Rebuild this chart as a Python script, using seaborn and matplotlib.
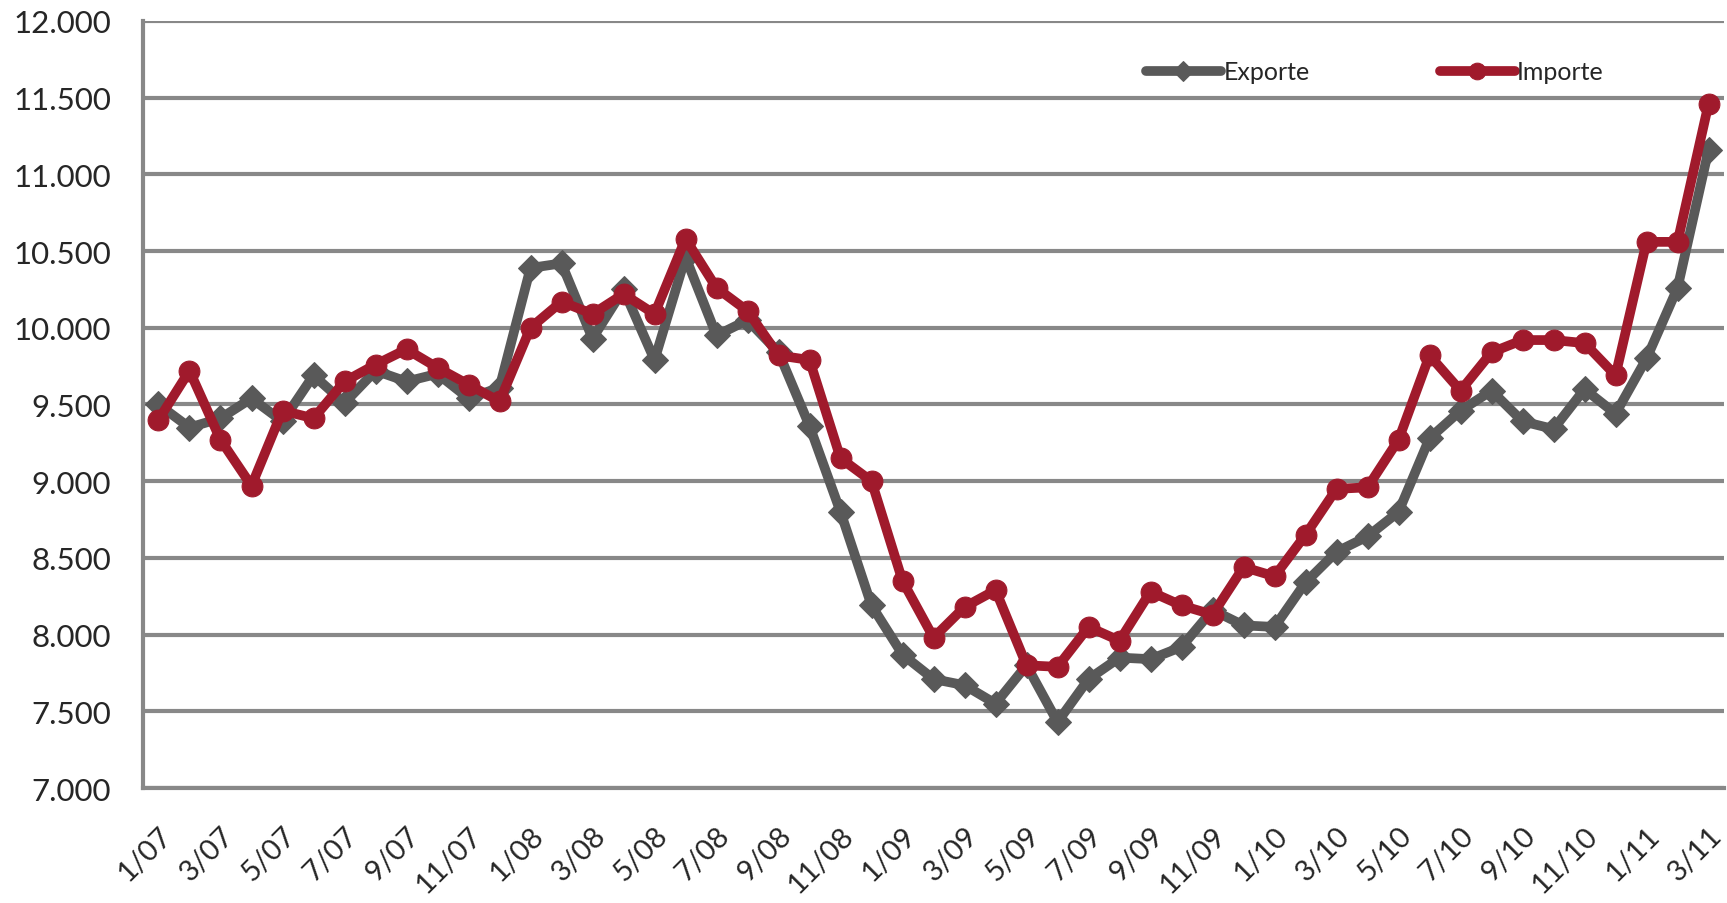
import numpy as np
import pandas as pd
import matplotlib
matplotlib.use('Agg')
import matplotlib.pyplot as plt
import seaborn as sns

# Monatsdaten 1/07 bis 3/11
monate = [f'{m}/{j:02d}' for j in range(7, 12) for m in range(1, 13)][:51]
exporte = [9.50, 9.35, 9.41, 9.54, 9.39, 9.69, 9.51, 9.72, 9.65, 9.70, 9.54, 9.61,
           10.39, 10.42, 9.93, 10.25, 9.79, 10.46, 9.95, 10.05, 9.84, 9.36, 8.80, 8.19,
           7.87, 7.71, 7.67, 7.55, 7.80, 7.43, 7.71, 7.85, 7.84, 7.92, 8.16, 8.06,
           8.05, 8.34, 8.54, 8.64, 8.80, 9.28, 9.46, 9.59, 9.39, 9.34, 9.60, 9.44,
           9.80, 10.26, 11.16]
importe = [9.40, 9.72, 9.27, 8.97, 9.46, 9.41, 9.65, 9.76, 9.86, 9.74, 9.63, 9.52,
           10.00, 10.17, 10.09, 10.22, 10.09, 10.58, 10.26, 10.11, 9.82, 9.79, 9.15, 9.00,
           8.35, 7.98, 8.18, 8.29, 7.80, 7.79, 8.05, 7.96, 8.28, 8.19, 8.13, 8.44,
           8.38, 8.65, 8.95, 8.96, 9.27, 9.82, 9.59, 9.84, 9.92, 9.92, 9.90, 9.69,
           10.56, 10.56, 11.46]
exporte = [v * 1000 for v in exporte]
importe = [v * 1000 for v in importe]

df = pd.DataFrame({'pos': np.arange(len(monate)), 'Exporte': exporte, 'Importe': importe})

sns.set_style('white')
plt.rcParams['font.family'] = ['Lato', 'DejaVu Sans']

grau = '#595959'
rot = '#A01A2C'
gitter = '#888888'

fig = plt.figure(figsize=(17.27, 9.04), dpi=100)
ax = fig.add_axes([0.0828, 0.1272, 0.9155, 0.8485])

sns.lineplot(x='pos', y='Exporte', data=df, ax=ax, color=grau, linewidth=7,
             marker='D', markersize=13, markeredgecolor=grau, label='Exporte', zorder=3)
sns.lineplot(x='pos', y='Importe', data=df, ax=ax, color=rot, linewidth=7,
             marker='o', markersize=15, markeredgecolor=rot, label='Importe', zorder=4)

ax.set_xlim(-0.5, len(monate) - 0.5)
ax.set_ylim(7000, 12000)
ax.set_yticks(np.arange(7000, 12001, 500))
ax.set_yticklabels([f'{v // 1000}.{v % 1000:03d}' for v in range(7000, 12001, 500)], fontsize=22.5)
ax.yaxis.grid(True, color=gitter, linewidth=3)
ax.set_axisbelow(True)

ax.set_xticks(np.arange(0, len(monate), 2))
ax.set_xticklabels(monate[::2], rotation=45, ha='right', rotation_mode='anchor', fontsize=21)
ax.set_xticks(np.arange(-0.5, len(monate), 1), minor=True)
ax.tick_params(axis='x', which='major', length=0, pad=24)
ax.tick_params(axis='x', which='minor', length=9, width=3, color=gitter, direction='out')
ax.tick_params(axis='y', length=9, width=3, color=gitter, direction='out', pad=14)
ax.set_xlabel('')
ax.set_ylabel('')

for s in ['top', 'right']:
    ax.spines[s].set_visible(False)
for s in ['left', 'bottom']:
    ax.spines[s].set_color(gitter)
    ax.spines[s].set_linewidth(3)

ax.legend(loc='upper left', bbox_to_anchor=(0.62, 0.978), ncol=2, frameon=False,
          fontsize=18, handlelength=3.0, handletextpad=0.1, columnspacing=5.2,
          markerscale=0.8)

fig.savefig('out.png', dpi=100)
